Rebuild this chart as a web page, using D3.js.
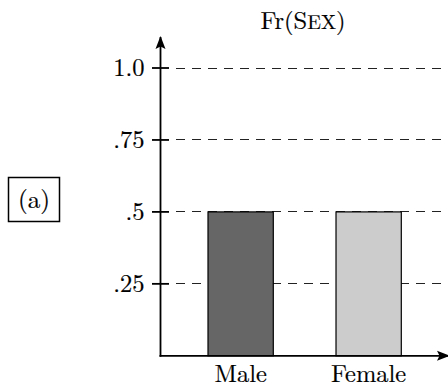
<!DOCTYPE html>
<html><head><meta charset="utf-8">
<script src="https://cdn.jsdelivr.net/npm/d3@7"></script>
<style>body{margin:0;background:#fff}svg{display:block}</style>
</head><body>
<script>
const categories = ["Male", "Female"];
const values = [0.5, 0.5];
const colors = ["#666666", "#cccccc"];
const tickValues = [0.25, 0.5, 0.75, 1.0];
const tickLabels = [".25", ".5", ".75", "1.0"];

const FONT = "'Latin Modern Roman', 'CMU Serif', 'Liberation Serif', serif";
const FS = 24.5;
const W = 448, H = 392;
const svg = d3.select("body").append("svg").attr("width", W).attr("height", H)
  .attr("font-family", FONT);

const y = d3.scaleLinear().domain([0, 1]).range([355.8, 68]);
const x = d3.scaleBand().domain(categories).range([160, 449.3]).paddingInner(0.49).paddingOuter(0.375);
const x0 = 160.5;

const defs = svg.append("defs");
defs.append("marker").attr("id", "arr").attr("viewBox", "0 0 13 10").attr("refX", 12).attr("refY", 5)
  .attr("markerWidth", 13).attr("markerHeight", 11).attr("markerUnits", "userSpaceOnUse").attr("orient", "auto")
  .append("path").attr("d", "M0,0 L13,5 L0,10 L2.5,5 Z").attr("fill", "#000");

function label(sel) {
  return sel.attr("font-size", FS).attr("fill", "#000").attr("stroke", "#000").attr("stroke-width", 0.2);
}

// grid
svg.append("g").selectAll("line").data(tickValues).join("line")
  .attr("x1", 176).attr("x2", W).attr("y1", d => y(d)).attr("y2", d => y(d))
  .attr("stroke", "#222").attr("stroke-width", 1).attr("shape-rendering", "crispEdges")
  .attr("stroke-dasharray", "8.7,7.3");

// bars
svg.append("g").selectAll("rect").data(categories).join("rect")
  .attr("x", d => x(d)).attr("width", x.bandwidth())
  .attr("y", (d, i) => y(values[i])).attr("height", (d, i) => y(0) - y(values[i]))
  .attr("fill", (d, i) => colors[i]).attr("stroke", "#000").attr("stroke-width", 1.2);

// axes
svg.append("line").attr("x1", x0).attr("x2", x0).attr("y1", y(0) + 1).attr("y2", 37)
  .attr("stroke", "#000").attr("stroke-width", 1.8).attr("marker-end", "url(#arr)");
svg.append("line").attr("x1", x0 - 1).attr("x2", 449).attr("y1", y(0)).attr("y2", y(0))
  .attr("stroke", "#000").attr("stroke-width", 1.8).attr("marker-end", "url(#arr)");

// ticks
const tg = svg.append("g").selectAll("g").data(tickValues).join("g");
tg.append("line").attr("x1", x0 - 8.5).attr("x2", x0 + 8.5).attr("y1", d => y(d)).attr("y2", d => y(d))
  .attr("stroke", "#000").attr("stroke-width", 1.8);
label(tg.append("text")).attr("x", x0 - 16).attr("y", d => y(d)).attr("dy", "0.33em")
  .attr("text-anchor", "end").text((d, i) => tickLabels[i]);

// category labels
label(svg.append("g").selectAll("text").data(categories).join("text"))
  .attr("x", d => x(d) + x.bandwidth() / 2).attr("y", 382).attr("text-anchor", "middle")
  .text(d => d);

// title
const t = label(svg.append("text")).attr("x", 303).attr("y", 28.5).attr("text-anchor", "middle");
t.append("tspan").text("Fr(S");
t.append("tspan").attr("font-size", FS * 0.82).text("EX");
t.append("tspan").text(")");

// panel label
svg.append("rect").attr("x", 8.5).attr("y", 177.5).attr("width", 51).attr("height", 44)
  .attr("fill", "none").attr("stroke", "#000").attr("stroke-width", 1.5);
label(svg.append("text")).attr("x", 34).attr("y", 200).attr("dy", "0.33em").attr("text-anchor", "middle")
  .attr("font-size", FS * 1.03).text("(a)");
</script>
</body></html>
